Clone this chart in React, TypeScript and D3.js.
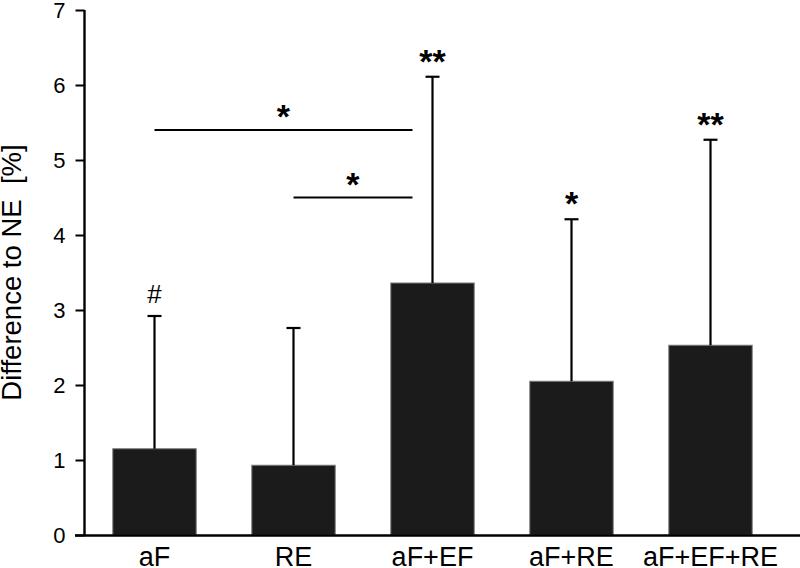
import React, { useRef, useEffect } from 'react';
import * as d3 from 'd3';

// groups, means and upper error (SD)
const categories = ['aF', 'RE', 'aF+EF', 'aF+RE', 'aF+EF+RE'];
const means = [1.15, 0.93, 3.36, 2.05, 2.53];
const errors = [1.77, 1.83, 2.75, 2.16, 2.74];
const marks = ['#', '', '**', '*', '**'];
const yTicks = [0, 1, 2, 3, 4, 5, 6, 7];

// pairwise comparisons drawn as brackets
const compFrom = ['aF', 'RE'];
const compTo = ['aF+EF', 'aF+EF'];
const compLevel = [5.4, 4.5];
const compLabel = ['*', '*'];

const FONT = '"Liberation Sans", Arial, Helvetica, sans-serif';

const App = () => {
  const svgRef = useRef<SVGSVGElement>(null);

  useEffect(() => {
    const width = 800;
    const height = 568;

    const svg = d3.select(svgRef.current);
    svg.selectAll('*').remove();
    svg.attr('width', width).attr('height', height);

    // scales
    const x = d3.scaleBand()
      .domain(categories)
      .range([85, 780])
      .paddingInner(0.4)
      .paddingOuter(0.2);

    const y = d3.scaleLinear()
      .domain([0, 7])
      .range([535, 10]);

    const data = categories.map((c, i) => ({ c, m: means[i], e: errors[i], mark: marks[i] }));
    const cx = (c: string) => (x(c) as number) + x.bandwidth() / 2;

    // bars
    svg.selectAll('.bar')
      .data(data)
      .enter().append('rect')
      .attr('class', 'bar')
      .attr('x', d => x(d.c) as number)
      .attr('y', d => y(d.m))
      .attr('width', x.bandwidth())
      .attr('height', d => y(0) - y(d.m))
      .attr('fill', '#1b1b1b')
      .attr('stroke', '#7a7a7a')
      .attr('stroke-width', 1);

    // error bars (upper only)
    const err = svg.append('g').attr('stroke', '#000').attr('stroke-width', 2.2);
    err.selectAll('.stem')
      .data(data)
      .enter().append('line')
      .attr('x1', d => cx(d.c))
      .attr('x2', d => cx(d.c))
      .attr('y1', d => y(d.m))
      .attr('y2', d => y(d.m + d.e));
    err.selectAll('.cap')
      .data(data)
      .enter().append('line')
      .attr('x1', d => cx(d.c) - 7)
      .attr('x2', d => cx(d.c) + 7)
      .attr('y1', d => y(d.m + d.e))
      .attr('y2', d => y(d.m + d.e));

    // marks above error bars
    svg.selectAll('.mark')
      .data(data.filter(d => d.mark))
      .enter().append('text')
      .attr('x', d => cx(d.c))
      .attr('y', d => y(d.m + d.e) - (d.mark === '#' ? 13 : 4))
      .attr('text-anchor', 'middle')
      .attr('font-family', FONT)
      .attr('font-size', d => (d.mark === '#' ? 26 : 34))
      .attr('font-weight', d => (d.mark === '#' ? 'normal' : 'bold'))
      .text(d => d.mark);

    // comparison brackets
    const comps = compFrom.map((f, i) => ({
      x1: cx(f),
      x2: (x(compTo[i]) as number) + x.bandwidth() * 0.26,
      lv: compLevel[i],
      label: compLabel[i],
    }));
    svg.selectAll('.comp')
      .data(comps)
      .enter().append('line')
      .attr('x1', d => d.x1)
      .attr('x2', d => d.x2)
      .attr('y1', d => y(d.lv))
      .attr('y2', d => y(d.lv))
      .attr('stroke', '#000')
      .attr('stroke-width', 2.2);
    svg.selectAll('.compLabel')
      .data(comps)
      .enter().append('text')
      .attr('x', d => (d.x1 + d.x2) / 2)
      .attr('y', d => y(d.lv) - 2)
      .attr('text-anchor', 'middle')
      .attr('font-family', FONT)
      .attr('font-size', 34)
      .attr('font-weight', 'bold')
      .text(d => d.label);

    // y axis
    const yAxis = svg.append('g')
      .attr('transform', 'translate(84.5,0)')
      .call(d3.axisLeft(y).tickValues(yTicks).tickSize(9).tickPadding(10).tickFormat(d3.format('d')));
    yAxis.select('.domain').attr('d', `M0,${y(7)}V${y(0)}`).attr('stroke-width', 2.4);
    yAxis.selectAll('.tick line').attr('stroke-width', 2);
    yAxis.selectAll('.tick text')
      .attr('font-family', FONT)
      .attr('font-size', 22)
      .attr('fill', '#000')
      .attr('dy', '0.32em');

    // x axis baseline
    svg.append('line')
      .attr('x1', 75)
      .attr('x2', width)
      .attr('y1', y(0) + 0.5)
      .attr('y2', y(0) + 0.5)
      .attr('stroke', '#000')
      .attr('stroke-width', 2.4);

    // category labels
    svg.selectAll('.cat')
      .data(categories)
      .enter().append('text')
      .attr('x', d => cx(d))
      .attr('y', 566)
      .attr('text-anchor', 'middle')
      .attr('font-family', FONT)
      .attr('font-size', 27)
      .attr('fill', '#000')
      .text(d => d);

    // y axis title
    svg.append('text')
      .attr('transform', `translate(21,${(y(0) + y(7)) / 2}) rotate(-90)`)
      .attr('text-anchor', 'middle')
      .attr('font-family', FONT)
      .attr('font-size', 27.5)
      .style('white-space', 'pre')
      .text('Difference to NE  [%]');
  }, []);

  return (
    <svg ref={svgRef} style={{ position: 'absolute', left: 0, top: 0, background: '#fff' }}></svg>
  );
};

export default App;
